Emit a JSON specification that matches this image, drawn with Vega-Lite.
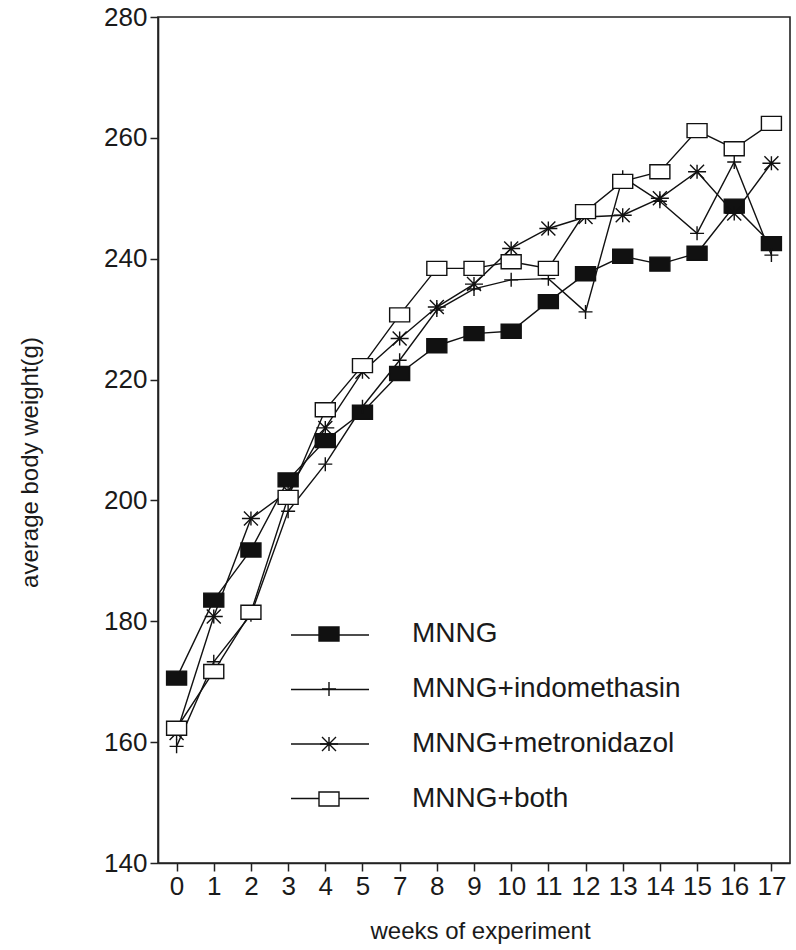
{
  "$schema": "https://vega.github.io/schema/vega-lite/v6.json",
  "width": 632,
  "height": 846,
  "autosize": "none",
  "padding": {"left": 158, "top": 17, "right": 6, "bottom": 87},
  "background": "white",
  "config": {
    "view": {"stroke": "#222", "strokeWidth": 1.6},
    "font": "Liberation Sans",
    "axis": {
      "domainColor": "#222", "domainWidth": 1.6, "tickColor": "#222", "tickWidth": 1.5, "tickSize": 8,
      "labelColor": "#1a1a1a", "labelFont": "Liberation Sans", "labelFontSize": 26,
      "titleColor": "#1a1a1a", "titleFont": "Liberation Sans", "titleFontSize": 24, "titleFontWeight": "normal",
      "grid": false
    }
  },
  "data": {"values": [
    {"week": "0", "series": "MNNG", "weight": 170.6},
    {"week": "1", "series": "MNNG", "weight": 183.5},
    {"week": "2", "series": "MNNG", "weight": 191.8},
    {"week": "3", "series": "MNNG", "weight": 203.4},
    {"week": "4", "series": "MNNG", "weight": 209.9},
    {"week": "5", "series": "MNNG", "weight": 214.6},
    {"week": "7", "series": "MNNG", "weight": 221.0},
    {"week": "8", "series": "MNNG", "weight": 225.6},
    {"week": "9", "series": "MNNG", "weight": 227.6},
    {"week": "10", "series": "MNNG", "weight": 228.0},
    {"week": "11", "series": "MNNG", "weight": 232.9},
    {"week": "12", "series": "MNNG", "weight": 237.5},
    {"week": "13", "series": "MNNG", "weight": 240.4},
    {"week": "14", "series": "MNNG", "weight": 239.1},
    {"week": "15", "series": "MNNG", "weight": 240.9},
    {"week": "16", "series": "MNNG", "weight": 248.7},
    {"week": "17", "series": "MNNG", "weight": 242.5},
    {"week": "0", "series": "MNNG+indomethasin", "weight": 159.3},
    {"week": "1", "series": "MNNG+indomethasin", "weight": 173.3},
    {"week": "2", "series": "MNNG+indomethasin", "weight": 181.1},
    {"week": "3", "series": "MNNG+indomethasin", "weight": 198.2},
    {"week": "4", "series": "MNNG+indomethasin", "weight": 206.0},
    {"week": "5", "series": "MNNG+indomethasin", "weight": 215.5},
    {"week": "7", "series": "MNNG+indomethasin", "weight": 223.2},
    {"week": "8", "series": "MNNG+indomethasin", "weight": 231.5},
    {"week": "9", "series": "MNNG+indomethasin", "weight": 235.0},
    {"week": "10", "series": "MNNG+indomethasin", "weight": 236.5},
    {"week": "11", "series": "MNNG+indomethasin", "weight": 236.7},
    {"week": "12", "series": "MNNG+indomethasin", "weight": 231.2},
    {"week": "13", "series": "MNNG+indomethasin", "weight": 253.5},
    {"week": "14", "series": "MNNG+indomethasin", "weight": 249.5},
    {"week": "15", "series": "MNNG+indomethasin", "weight": 244.2},
    {"week": "16", "series": "MNNG+indomethasin", "weight": 256.0},
    {"week": "17", "series": "MNNG+indomethasin", "weight": 240.6},
    {"week": "0", "series": "MNNG+metronidazol", "weight": 161.5},
    {"week": "1", "series": "MNNG+metronidazol", "weight": 180.8},
    {"week": "2", "series": "MNNG+metronidazol", "weight": 197.0},
    {"week": "3", "series": "MNNG+metronidazol", "weight": 201.5},
    {"week": "4", "series": "MNNG+metronidazol", "weight": 212.0},
    {"week": "5", "series": "MNNG+metronidazol", "weight": 221.3},
    {"week": "7", "series": "MNNG+metronidazol", "weight": 226.8},
    {"week": "8", "series": "MNNG+metronidazol", "weight": 232.0},
    {"week": "9", "series": "MNNG+metronidazol", "weight": 235.8},
    {"week": "10", "series": "MNNG+metronidazol", "weight": 241.7},
    {"week": "11", "series": "MNNG+metronidazol", "weight": 245.0},
    {"week": "12", "series": "MNNG+metronidazol", "weight": 246.9},
    {"week": "13", "series": "MNNG+metronidazol", "weight": 247.2},
    {"week": "14", "series": "MNNG+metronidazol", "weight": 250.0},
    {"week": "15", "series": "MNNG+metronidazol", "weight": 254.4},
    {"week": "16", "series": "MNNG+metronidazol", "weight": 247.5},
    {"week": "17", "series": "MNNG+metronidazol", "weight": 255.8},
    {"week": "0", "series": "MNNG+both", "weight": 162.3},
    {"week": "1", "series": "MNNG+both", "weight": 171.7},
    {"week": "2", "series": "MNNG+both", "weight": 181.5},
    {"week": "3", "series": "MNNG+both", "weight": 200.5},
    {"week": "4", "series": "MNNG+both", "weight": 215.0},
    {"week": "5", "series": "MNNG+both", "weight": 222.3},
    {"week": "7", "series": "MNNG+both", "weight": 230.7},
    {"week": "8", "series": "MNNG+both", "weight": 238.4},
    {"week": "9", "series": "MNNG+both", "weight": 238.4},
    {"week": "10", "series": "MNNG+both", "weight": 239.5},
    {"week": "11", "series": "MNNG+both", "weight": 238.4},
    {"week": "12", "series": "MNNG+both", "weight": 247.8},
    {"week": "13", "series": "MNNG+both", "weight": 252.8},
    {"week": "14", "series": "MNNG+both", "weight": 254.4},
    {"week": "15", "series": "MNNG+both", "weight": 261.2},
    {"week": "16", "series": "MNNG+both", "weight": 258.2},
    {"week": "17", "series": "MNNG+both", "weight": 262.4}
  ]},
  "encoding": {
    "x": {
      "field": "week", "type": "ordinal",
      "scale": {"type": "point", "domain": ["0","1","2","3","4","5","7","8","9","10","11","12","13","14","15","16","17"], "padding": 0.5},
      "axis": {"title": "weeks of experiment", "labelAngle": 0, "labelOverlap": false, "labelPadding": 2, "titleX": 322, "titleY": 75, "titleBaseline": "alphabetic"}
    },
    "y": {
      "field": "weight", "type": "quantitative",
      "scale": {"domain": [140, 280], "nice": false, "zero": false},
      "axis": {"title": "average body weight(g)", "values": [140,160,180,200,220,240,260,280], "labelPadding": 3, "titleX": -128, "titleY": 445, "titleBaseline": "middle", "titleAngle": -90}
    }
  },
  "layer": [
    {
      "mark": {"type": "line", "strokeWidth": 1.4},
      "encoding": {
        "stroke": {
          "field": "series", "type": "nominal",
          "sort": ["MNNG", "MNNG+indomethasin", "MNNG+metronidazol", "MNNG+both"],
          "scale": {"range": ["#111", "#111", "#111", "#111"]},
          "legend": {
            "title": null, "orient": "none", "legendX": 151.5, "legendY": 597.5,
            "symbolType": "M-2,0H2", "symbolSize": 1521, "symbolStrokeWidth": 1.4,
            "rowPadding": 19.5, "labelExpr": "''", "labelFontSize": 28, "padding": 0
          }
        }
      }
    },
    {
      "mark": {"type": "point", "stroke": "#111", "strokeWidth": 1.4, "opacity": 1, "size": 400},
      "encoding": {
        "shape": {
          "field": "series", "type": "nominal",
          "scale": {
            "domain": ["MNNG", "MNNG+indomethasin", "MNNG+metronidazol", "MNNG+both"],
            "range": ["M-1,-0.7H1V0.7H-1Z", "M-0.7,0H0.7M0,-0.7V0.7", "M-0.9,0H0.9M-0.7,-0.7L0.7,0.7M-0.7,0.7L0.7,-0.7M0,-0.7V0.7", "M-1,-0.7H1V0.7H-1Z"]
          },
          "legend": {
            "title": null, "orient": "none", "legendX": 157, "legendY": 603,
            "symbolSize": 400, "symbolStrokeWidth": 1.4, "rowPadding": 27, "labelOffset": 69, "labelLimit": 500,
            "labelFont": "Liberation Sans", "labelFontSize": 28, "labelColor": "#1a1a1a", "padding": 0
          }
        },
        "fill": {
          "field": "series", "type": "nominal",
          "scale": {"domain": ["MNNG", "MNNG+indomethasin", "MNNG+metronidazol", "MNNG+both"], "range": ["#111", "#111", "#111", "white"]},
          "legend": null
        }
      }
    }
  ]
}
